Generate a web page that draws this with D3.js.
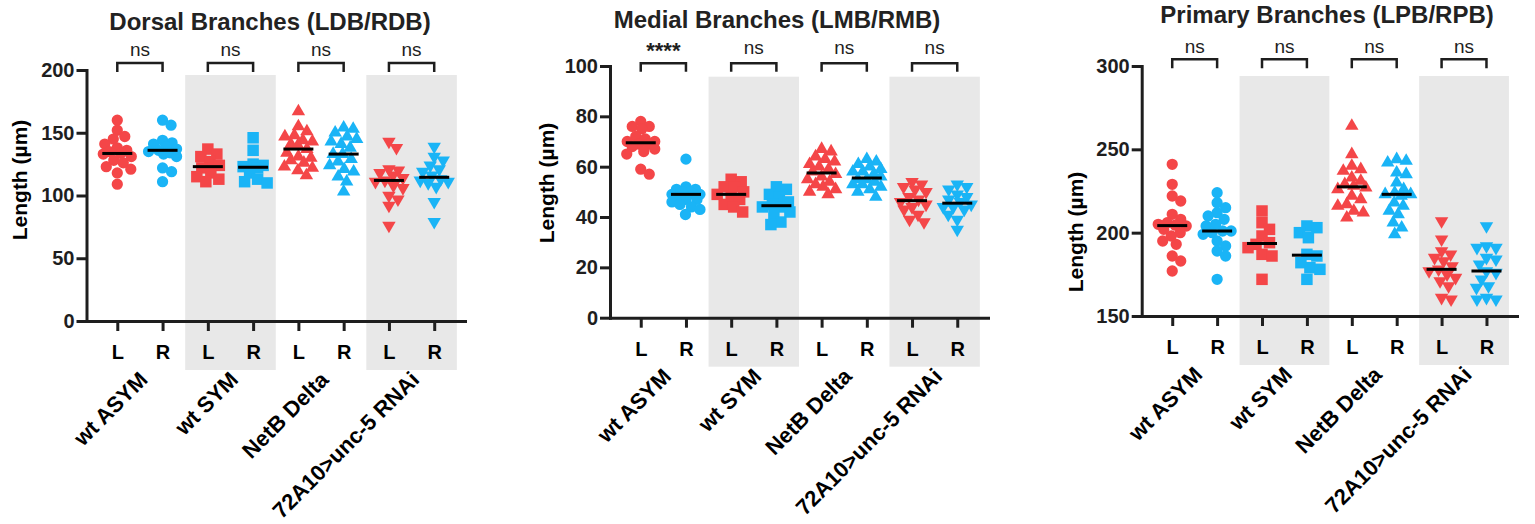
<!DOCTYPE html>
<html>
<head>
<meta charset="utf-8">
<script src="https://cdn.jsdelivr.net/npm/d3@7"></script>
<style>
  body { margin: 0; background: #fff; }
  svg { display: block; font-family: "Liberation Sans", Arial, sans-serif; }
</style>
</head>
<body>
<svg id="chart" width="1535" height="524"></svg>
<script>
const groups = ["wt ASYM", "wt SYM", "NetB Delta", "72A10>unc-5 RNAi"];
const sides = ["L", "R"];

// one array per group (µm)
const dorsalL = [
  [160, 152, 147, 145, 141, 138, 136, 135, 133.5, 133, 131, 128, 126, 123, 121, 118, 109],
  [137, 133, 131, 127, 124, 122, 118, 115, 113, 111],
  [167, 155, 151, 148, 147, 144, 143, 141, 140, 137, 134, 131, 130, 128, 126, 123, 122, 120, 116],
  [143, 138, 121, 120, 118, 116, 114, 112, 111, 108, 106, 100, 97, 92, 76]
];
const dorsalR = [
  [160, 156, 144, 142, 141, 139, 137, 136, 135, 134, 133, 131, 122, 119, 111],
  [146, 136, 125, 124, 123, 122, 118, 113, 111, 110],
  [154, 153, 150, 147, 145, 143, 141, 138, 133, 133, 129, 127, 124, 121, 119, 115, 111, 103],
  [139, 131, 128, 124, 121, 119, 116, 113, 112, 111, 110, 107, 95, 79]
];
const medialL = [
  [78, 76, 76, 75, 72, 71, 70, 70, 69, 69, 68, 67, 66, 65, 59, 57],
  [55, 54, 52, 52, 50, 49, 48, 47, 45, 44, 42],
  [67, 66, 64, 63, 62, 61, 60, 59, 58, 57, 56, 55, 54, 53, 52, 51, 50, 49],
  [54, 53, 52, 51, 50, 48, 47, 46, 45, 44, 43, 41, 39, 38]
];
const medialR = [
  [63, 52, 51, 51, 50, 50, 49, 49, 49, 48, 47, 47, 46, 45, 44, 43, 41],
  [52, 51, 49, 48, 46, 45, 44, 44, 42, 41, 38, 37],
  [63, 62, 61, 60, 59, 58, 58, 57, 56, 55, 55, 54, 53, 53, 52, 51, 50, 48],
  [53, 52, 51, 49, 48, 47, 46, 45, 44, 44, 43, 41, 39, 35]
];
const primaryL = [
  [241, 229, 222, 219, 211, 208, 206, 205, 204.5, 204, 202, 200, 198, 195, 193, 186, 183, 177],
  [213, 206, 202, 198, 194, 193, 191, 187, 186, 172],
  [264, 247, 240, 238, 237, 233, 231, 229, 228, 227, 226, 222, 220, 217, 216, 213, 212, 209],
  [207, 196, 189, 187, 185, 183, 180, 178, 177, 175, 173, 171, 168, 161, 160]
];
const primaryR = [
  [224, 218, 215, 212, 210, 208, 205, 204, 201, 201, 200, 199, 195, 192, 189, 186, 172],
  [204, 203, 200, 197, 187, 186, 182, 179, 178, 172],
  [244, 243, 242, 236, 235, 230, 226, 224, 223, 223, 222, 218, 216, 213, 211, 206, 203, 199],
  [204, 192, 191, 191, 185, 184, 181, 177, 176, 172, 168, 167, 161, 160, 160]
];

const dorsalSig = ["ns", "ns", "ns", "ns"];
const medialSig = ["****", "ns", "ns", "ns"];
const primarySig = ["ns", "ns", "ns", "ns"];

const dorsalTicks = [0, 50, 100, 150, 200];
const medialTicks = [0, 20, 40, 60, 80, 100];
const primaryTicks = [150, 200, 250, 300];

const RED = "#f44648";
const BLUE = "#1ab4f6";
const INK = "#1e1e1e";
const shapes = [d3.symbolCircle, d3.symbolSquare, d3.symbolTriangle, d3.symbolTriangle];
const shapeSize = [100, 132, 78, 78];

const svg = d3.select("#chart");

// deterministic swarm: nearest free x offset, points may overlap a little
function swarm(vals, y, minDist, maxOff) {
  const order = vals.map((v, i) => i).sort((a, b) => vals[b] - vals[a]);
  const placed = [];
  const off = new Array(vals.length);
  order.forEach(i => {
    const py = y(vals[i]);
    let best = 0, bestD = -1;
    for (let k = 0; k <= maxOff * 4; k++) {
      const dx = (k % 2 ? 1 : -1) * Math.ceil(k / 2) * 0.5;
      const d = placed.length ? d3.min(placed, p => Math.hypot(p.dx - dx, p.py - py)) : Infinity;
      if (d >= minDist) { best = dx; bestD = d; break; }
      if (d > bestD) { bestD = d; best = dx; }
    }
    off[i] = best;
    placed.push({ dx: best, py });
  });
  return off;
}

function drawPanel(cfg) {
  const x = d3.scalePoint().domain(d3.range(8)).range([cfg.x0, cfg.x1]).padding(0.68);
  const y = d3.scaleLinear().domain(cfg.domain).range([cfg.yBot, cfg.yTop]);
  const step = x.step();
  const g = svg.append("g");

  // shaded groups
  [1, 3].forEach(gi => {
    g.append("rect")
      .attr("x", x(gi * 2) - step / 2).attr("width", step * 2)
      .attr("y", cfg.bandTop).attr("height", cfg.yBot + 49 - cfg.bandTop)
      .attr("fill", "#e8e8e8");
  });

  // axes
  g.append("g").attr("transform", `translate(${cfg.x0},0)`)
    .call(d3.axisLeft(y).tickValues(cfg.ticks).tickSize(10).tickSizeOuter(0).tickPadding(2))
    .call(a => a.select(".domain").attr("stroke", INK).attr("stroke-width", 3).attr("stroke-linecap", "square"))
    .call(a => a.selectAll(".tick line").attr("stroke", INK).attr("stroke-width", 3))
    .call(a => a.selectAll(".tick text").attr("fill", INK).attr("font-size", 20)
      .attr("font-weight", "bold").attr("font-family", "Liberation Sans, Arial, sans-serif"));

  g.append("g").attr("transform", `translate(0,${cfg.yBot})`)
    .call(d3.axisBottom(x).tickFormat(i => sides[i % 2]).tickSize(10).tickSizeOuter(0))
    .call(a => a.select(".domain").attr("stroke", INK).attr("stroke-width", 3).attr("stroke-linecap", "square"))
    .call(a => a.selectAll(".tick line").attr("stroke", INK).attr("stroke-width", 3))
    .call(a => a.selectAll(".tick text").attr("fill", "#000").attr("font-size", 20)
      .attr("font-weight", "bold").attr("font-family", "Liberation Sans, Arial, sans-serif")
      .attr("y", 38).attr("dy", 0));

  // points + medians
  d3.range(8).forEach(ci => {
    const gi = ci >> 1, side = ci % 2;
    const vals = side ? cfg.R[gi] : cfg.L[gi];
    const cx = x(ci);
    const offs = swarm(vals, y, gi === 1 ? 10 : 9.5, 14);
    const sym = d3.symbol().type(shapes[gi]).size(shapeSize[gi]);
    g.append("g").selectAll("path").data(vals).join("path")
      .attr("d", sym)
      .attr("transform", (v, i) => `translate(${cx + offs[i]},${y(v)})` + (gi === 3 ? " rotate(180)" : ""))
      .attr("fill", side ? BLUE : RED);
    const m = d3.median(vals);
    g.append("line")
      .attr("x1", cx - 15).attr("x2", cx + 15)
      .attr("y1", y(m)).attr("y2", y(m))
      .attr("stroke", "#000").attr("stroke-width", 3);
  });

  // brackets + significance + group names
  groups.forEach((name, gi) => {
    const xl = x(gi * 2), xr = x(gi * 2 + 1);
    g.append("path")
      .attr("d", `M${xl},${cfg.brBot}V${cfg.brTop}H${xr}V${cfg.brBot}`)
      .attr("fill", "none").attr("stroke", INK).attr("stroke-width", 2.5);
    const stars = cfg.sig[gi] !== "ns";
    g.append("text")
      .attr("x", (xl + xr) / 2).attr("y", stars ? cfg.sigY + 4 : cfg.sigY)
      .attr("text-anchor", "middle").attr("font-size", stars ? 22 : 19)
      .attr("font-weight", stars ? "bold" : "normal").attr("fill", INK)
      .text(cfg.sig[gi]);
    g.append("text")
      .attr("text-anchor", "end").attr("font-size", 22).attr("font-weight", "bold").attr("fill", "#000")
      .attr("transform", `translate(${(xl + xr) / 2 + 9},${cfg.yBot + 60}) rotate(-45)`)
      .text(name);
  });

  // titles
  g.append("text")
    .attr("x", cfg.titleX).attr("y", cfg.titleY)
    .attr("text-anchor", "middle").attr("font-size", 24).attr("font-weight", "bold").attr("fill", "#222")
    .text(cfg.title);
  g.append("text")
    .attr("transform", `translate(${cfg.ylabX},${cfg.ylabY}) rotate(-90)`)
    .attr("text-anchor", "middle").attr("font-size", 21).attr("font-weight", "bold").attr("fill", "#000")
    .text("Length (µm)");
}

drawPanel({
  title: "Dorsal Branches (LDB/RDB)", L: dorsalL, R: dorsalR, sig: dorsalSig,
  domain: [0, 200], ticks: dorsalTicks,
  x0: 86.5, x1: 465, yTop: 70, yBot: 321, bandTop: 75,
  brTop: 63, brBot: 72, sigY: 56, titleX: 270, titleY: 30, ylabX: 27, ylabY: 180
});
drawPanel({
  title: "Medial Branches (LMB/RMB)", L: medialL, R: medialR, sig: medialSig,
  domain: [0, 100], ticks: medialTicks,
  x0: 610, x1: 988, yTop: 66, yBot: 317.7, bandTop: 76.7,
  brTop: 63.3, brBot: 71.7, sigY: 54, titleX: 777, titleY: 28, ylabX: 554, ylabY: 183
});
drawPanel({
  title: "Primary Branches (LPB/RPB)", L: primaryL, R: primaryR, sig: primarySig,
  domain: [150, 300], ticks: primaryTicks,
  x0: 1141.7, x1: 1517, yTop: 66, yBot: 316, bandTop: 76,
  brTop: 59.3, brBot: 68.3, sigY: 53, titleX: 1327, titleY: 23, ylabX: 1083, ylabY: 232
});
</script>
</body>
</html>
